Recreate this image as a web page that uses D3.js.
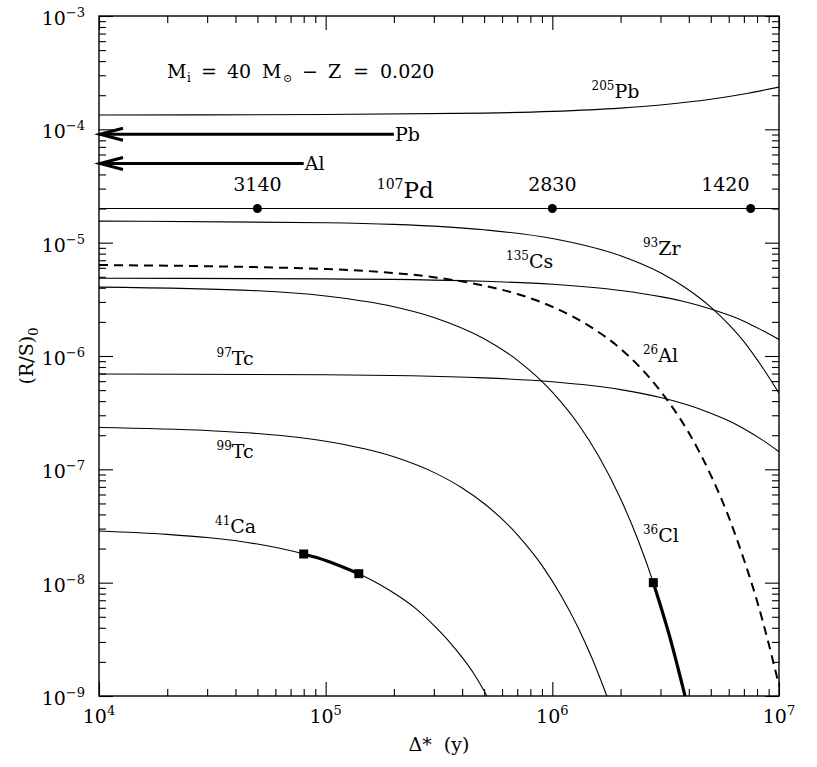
<!DOCTYPE html>
<html><head><meta charset="utf-8">
<script src="https://cdn.jsdelivr.net/npm/d3@7"></script>
<style>
body{margin:0;background:#fff}
svg{display:block}
text{font-family:'DejaVu Serif',serif;fill:#000}
</style>
</head><body>
<svg id="c" width="817" height="767"></svg>
<script>
// ---------- data ----------
const xDomain = [1e4, 1e7];
const yDomain = [1e-9, 1e-3];
const xMajor = [1e4, 1e5, 1e6, 1e7];
const xMajorExp = ["4", "5", "6", "7"];
const yMajor = [1e-9, 1e-8, 1e-7, 1e-6, 1e-5, 1e-4, 1e-3];
const yMajorExp = ["−9", "−8", "−7", "−6", "−5", "−4", "−3"];

const pb205 = [[1e4,1.34e-4],[1e5,1.35e-4],[5e5,1.39e-4],[1e6,1.44e-4],[2e6,1.54e-4],[3e6,1.64e-4],[5e6,1.84e-4],[7e6,2.05e-4],[1e7,2.36e-4]];
const pd107 = [[1e4,2e-5],[1e7,2e-5]];
const zr93 = [[1e4,1.55e-5],[1e5,1.50e-5],[2e5,1.45e-5],[5e5,1.30e-5],[1e6,1.09e-5],[2e6,7.67e-6],[3e6,5.42e-6],[4e6,3.82e-6],[5e6,2.70e-6],[6e6,1.90e-6],[7e6,1.34e-6],[8.5e6,7.8e-7],[1e7,4.7e-7]];
const cs135 = [[1e4,4.85e-6],[1e5,4.79e-6],[5e5,4.56e-6],[1e6,4.29e-6],[2e6,3.78e-6],[3e6,3.34e-6],[4e6,2.95e-6],[5e6,2.60e-6],[6e6,2.30e-6],[7e6,2.03e-6],[8.5e6,1.67e-6],[1e7,1.40e-6]];
const al26 = [[1e4,6.35e-6],[1e5,5.85e-6],[2e5,5.40e-6],[3e5,4.96e-6],[5e5,4.17e-6],[7e5,3.53e-6],[1e6,2.72e-6],[1.5e6,1.77e-6],[2e6,1.16e-6],[3e6,4.9e-7],[4e6,2.1e-7],[5e6,8.9e-8],[6e6,3.8e-8],[7e6,1.6e-8],[8e6,6.9e-9],[9e6,2.9e-9],[1e7,1.24e-9]];
const cl36 = [[1e4,4.05e-6],[5e4,3.76e-6],[1e5,3.38e-6],[2e5,2.72e-6],[3e5,2.19e-6],[5e5,1.42e-6],[7e5,9.2e-7],[1e6,4.8e-7],[1.3e6,2.51e-7],[1.6e6,1.31e-7],[2e6,5.5e-8],[2.4e6,2.32e-8],[2.79e6,1.0e-8],[3.3e6,3.3e-9],[3.85e6,1.0e-9]];
const tc97 = [[1e4,6.93e-7],[1e5,6.84e-7],[5e5,6.41e-7],[1e6,5.92e-7],[2e6,5.05e-7],[3e6,4.31e-7],[4e6,3.68e-7],[5e6,3.13e-7],[6e6,2.68e-7],[7e6,2.28e-7],[8.5e6,1.80e-7],[1e7,1.43e-7]];
const tc99 = [[1e4,2.34e-7],[3e4,2.20e-7],[5e4,2.07e-7],[1e5,1.77e-7],[2e5,1.29e-7],[3e5,9.4e-8],[4e5,6.85e-8],[5e5,5.0e-8],[7e5,2.66e-8],[9e5,1.42e-8],[1.1e6,7.5e-9],[1.3e6,4.0e-9],[1.5e6,2.13e-9],[1.74e6,1.0e-9]];
const ca41 = [[1e4,2.86e-8],[2e4,2.67e-8],[3e4,2.50e-8],[5e4,2.19e-8],[8e4,1.79e-8],[1e5,1.57e-8],[1.4e5,1.20e-8],[2e5,8.1e-9],[2.5e5,5.9e-9],[3e5,4.2e-9],[3.5e5,3.04e-9],[4e5,2.19e-9],[4.5e5,1.58e-9],[5.15e5,1.0e-9]];

const ca41Thick = [8e4, 1.4e5];          // x-range of thick segment
const cl36Thick = [2.79e6, 3.85e6];
const squares = [[8e4,1.79e-8],[1.4e5,1.20e-8],[2.79e6,1.0e-8]];

const pdDotX = [5e4, 1e6, 7.5e6];
const pdDotY = 2e-5;
const pdAges = ["3140", "2830", "1420"];
const pdAgeX = [5e4, 1e6, 5.8e6];
const pdAgeY = 2.85e-5;

const arrowNames = ["Pb", "Al"];
const arrowFrom = [2e5, 8e4];
const arrowTo = [1e4, 1e4];
const arrowY = [9.05e-5, 5.0e-5];

const curveLabels = [
  {sup:"205", name:"Pb", x:1.49e6, y:1.89e-4},
  {sup:"93",  name:"Zr", x:2.51e6, y:7.78e-6},
  {sup:"135", name:"Cs", x:6.25e5, y:5.98e-6},
  {sup:"26",  name:"Al", x:2.51e6, y:8.85e-7},
  {sup:"97",  name:"Tc", x:3.30e4, y:8.33e-7},
  {sup:"99",  name:"Tc", x:3.30e4, y:1.25e-7},
  {sup:"41",  name:"Ca", x:3.25e4, y:2.73e-8},
  {sup:"36",  name:"Cl", x:2.51e6, y:2.30e-8}
];
const pdLabel = {sup:"107", name:"Pd", x:1.68e5, y:2.48e-5};

// ---------- chart ----------
const L = 99, R = 779, T = 16, B = 696;
const svg = d3.select("#c");
const x = d3.scaleLog().domain(xDomain).range([L, R]);
const y = d3.scaleLog().domain(yDomain).range([B, T]);

svg.append("defs").append("clipPath").attr("id","clip")
  .append("rect").attr("x",L).attr("y",T).attr("width",R-L).attr("height",B-T);

const plot = svg.append("g").attr("clip-path","url(#clip)");
const line = d3.line().x(d=>x(d[0])).y(d=>y(d[1])).curve(d3.curveMonotoneX);

function curve(data, w, dash){
  const p = plot.append("path").attr("d", line(data)).attr("fill","none")
    .attr("stroke","#000").attr("stroke-width", w).attr("stroke-linejoin","round");
  if (dash) p.attr("stroke-dasharray", dash);
  return p;
}
[pb205, pd107, zr93, cs135, cl36, tc97, tc99, ca41].forEach(d => curve(d, 1.1));
curve(al26, 2, "9,6");
curve(ca41.filter(d => d[0] >= ca41Thick[0] && d[0] <= ca41Thick[1]), 3.2);
curve(cl36.filter(d => d[0] >= cl36Thick[0] && d[0] <= cl36Thick[1]), 3.2);

// squares
plot.selectAll("rect.sq").data(squares).enter().append("rect")
  .attr("x", d=>x(d[0])-4.5).attr("y", d=>y(d[1])-4.5)
  .attr("width",9).attr("height",9).attr("fill","#000");

// Pd dots
plot.selectAll("circle.pd").data(pdDotX).enter().append("circle")
  .attr("cx", d=>x(d)).attr("cy", y(pdDotY)).attr("r",4.5).attr("fill","#000");

// arrows
arrowNames.forEach((n,i)=>{
  const y0 = y(arrowY[i]), x0 = x(arrowTo[i]), x1 = x(arrowFrom[i]);
  const g = svg.append("g").attr("stroke","#000").attr("stroke-width",3).attr("fill","none");
  g.append("line").attr("x1",x0+1).attr("x2",x1).attr("y1",y0).attr("y2",y0);
  g.append("path").attr("d",`M${x0+24},${y0-6}L${x0+1},${y0}L${x0+24},${y0+6}`)
    .attr("stroke-linejoin","miter");
  svg.append("text").attr("x",x1+1).attr("y",y0+7).attr("font-size",19).text(n);
});

// Pd ages
svg.selectAll("text.age").data(pdAges).enter().append("text")
  .attr("x",(d,i)=>x(pdAgeX[i])).attr("y",y(pdAgeY)).attr("text-anchor","middle")
  .attr("font-size",19).text(d=>d);

// curve labels
function isoLabel(o, big){
  const t = svg.append("text").attr("x",x(o.x)).attr("y",y(o.y));
  t.append("tspan").attr("font-size", big?14:12).attr("dy", big?-9:-8).text(o.sup);
  t.append("tspan").attr("font-size", big?23:19).attr("dy", big?9:8).text(o.name);
}
curveLabels.forEach(o=>isoLabel(o,false));
isoLabel(pdLabel,true);

// title
const title = svg.append("text").attr("y", y(2.84e-4)).attr("font-size",19);
const tp = [["M",167,0,19],["i",187,4,12],["=",201,-4,19],["40",227,0,19],["M",262,0,19],["⊙",283,4,11],["−",302,-4,19],["Z",328,0,19],["=",353,0,19],["0.020",380,0,19]];
tp.forEach(p=>title.append("tspan").attr("x",p[1]).attr("dy",p[2]).attr("font-size",p[3]).text(p[0]));

// ---------- axes ----------
const allX = x.ticks(), allY = y.ticks();
const isMajor = v => Math.abs(Math.log10(v) - Math.round(Math.log10(v))) < 1e-6;
const minorX = allX.filter(v=>!isMajor(v)), minorY = allY.filter(v=>!isMajor(v));

function axis(gen, pos, vals, size){
  const g = svg.append("g").attr("transform", pos)
    .call(gen.tickValues(vals).tickSize(size).tickFormat(""));
  g.select(".domain").remove();
  g.selectAll(".tick line").attr("stroke","#000").attr("stroke-width",1.1);
}
axis(d3.axisBottom(x), `translate(0,${B})`, minorX, -7);
axis(d3.axisBottom(x), `translate(0,${B})`, xMajor, -14);
axis(d3.axisTop(x), `translate(0,${T})`, minorX, -7);
axis(d3.axisTop(x), `translate(0,${T})`, xMajor, -14);
axis(d3.axisLeft(y), `translate(${L},0)`, minorY, -7);
axis(d3.axisLeft(y), `translate(${L},0)`, yMajor, -14);
axis(d3.axisRight(y), `translate(${R},0)`, minorY, -7);
axis(d3.axisRight(y), `translate(${R},0)`, yMajor, -14);

svg.append("rect").attr("x",L).attr("y",T).attr("width",R-L).attr("height",B-T)
  .attr("fill","none").attr("stroke","#000").attr("stroke-width",1.4);

// tick labels
xMajor.forEach((v,i)=>{
  const t = svg.append("text").attr("x",x(v)).attr("y",B+27).attr("text-anchor","middle").attr("font-size",19);
  t.append("tspan").text("10");
  t.append("tspan").attr("font-size",13).attr("dy",-8).text(xMajorExp[i]);
});
yMajor.forEach((v,i)=>{
  const t = svg.append("text").attr("x",L-14).attr("y",y(v)+9).attr("text-anchor","end").attr("font-size",19);
  t.append("tspan").text("10");
  t.append("tspan").attr("font-size",13).attr("dy",-8).text(yMajorExp[i]);
});

// axis titles
const xt = svg.append("text").attr("x",(L+R)/2).attr("y",751).attr("text-anchor","middle").attr("font-size",19)
  .attr("xml:space","preserve");
xt.text("Δ*  (y)");
const yt = svg.append("text").attr("transform",`translate(33,${(T+B)/2}) rotate(-90)`)
  .attr("text-anchor","middle").attr("font-size",19);
yt.append("tspan").text("(R/S)");
yt.append("tspan").attr("font-size",13).attr("dy",5).text("0");
</script>
</body></html>
